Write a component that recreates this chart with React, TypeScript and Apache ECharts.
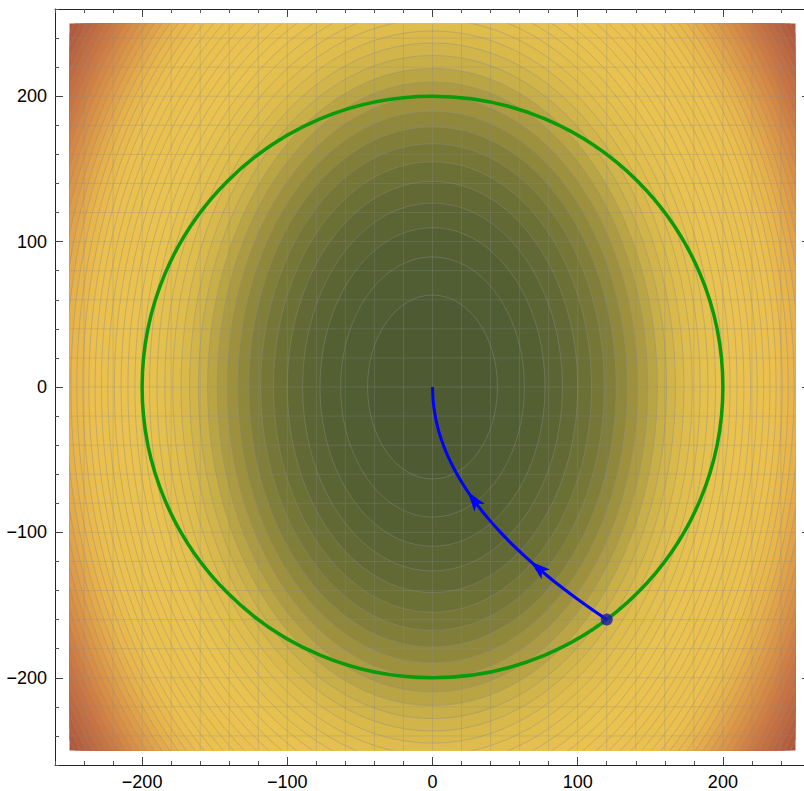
import React, { useEffect, useRef } from 'react';
import * as echarts from 'echarts';

// Contour levels of the field f(x, y) = x^2 + y^2 / 2
const contourLevels = [
  2000, 4000, 6000, 8000, 10000, 12000, 14000, 16000, 18000, 20000,
  22000, 24000, 26000, 28000, 30000, 32000, 34000, 36000, 38000, 40000,
  42000, 44000, 46000, 48000, 50000, 52000, 54000, 56000, 58000, 60000,
  62000, 64000, 66000, 68000, 70000, 72000, 74000, 76000, 78000, 80000,
  82000, 84000, 86000, 88000, 90000, 92000, 94000,
];
const fieldExtent = [-250, 250];
const gridValues = [
  -240, -220, -200, -180, -160, -140, -120, -100, -80, -60, -40, -20, 0,
  20, 40, 60, 80, 100, 120, 140, 160, 180, 200, 220, 240,
];
const majorTicks = [-200, -100, 0, 100, 200];
const minorTicks = [
  -260, -240, -220, -180, -160, -140, -120, -80, -60, -40, -20,
  20, 40, 60, 80, 120, 140, 160, 180, 220, 240, 260,
];
const axisRange = [-260, 260];
const circleRadius = [200];
const pathPoints = [
  [120, -160], [105.5, -150], [91.9, -140], [79.2, -130], [67.5, -120],
  [56.7, -110], [46.9, -100], [38.0, -90], [30.0, -80], [23.0, -70],
  [16.9, -60], [11.7, -50], [7.5, -40], [4.2, -30], [1.9, -20],
  [0.5, -10], [0, 0],
];
// arrowheads: tip point, point behind on the path
const arrowData = [
  [24.3, -72, 33.9, -85],
  [67.5, -120, 81.7, -132],
];
const startPoint = [[120, -160]];

const colorStops: [number, number[]][] = [
  [0, [76, 90, 50]],
  [5000, [84, 95, 50]],
  [10000, [102, 108, 52]],
  [15000, [128, 126, 56]],
  [20000, [165, 150, 64]],
  [25000, [200, 175, 72]],
  [30000, [222, 188, 76]],
  [40000, [234, 195, 79]],
  [55000, [236, 192, 78]],
  [62000, [232, 180, 75]],
  [70000, [222, 152, 70]],
  [80000, [204, 118, 64]],
  [94000, [172, 82, 57]],
];

function colorAt(f: number): string {
  for (let i = 1; i < colorStops.length; i++) {
    const [f1, c1] = colorStops[i];
    const [f0, c0] = colorStops[i - 1];
    if (f <= f1 || i === colorStops.length - 1) {
      const t = Math.max(0, Math.min(1, (f - f0) / (f1 - f0)));
      const c = c0.map((v, k) => Math.round(v + (c1[k] - v) * t));
      return `rgb(${c[0]},${c[1]},${c[2]})`;
    }
  }
  return 'rgb(0,0,0)';
}

const fmt = (v: number) => (v < 0 ? '\u2212' + Math.abs(v) : String(v));
const FONT = "'Liberation Sans', Arial, Helvetica, sans-serif";

function majorAxis(position: string, labels: boolean) {
  return {
    type: 'value',
    position,
    min: axisRange[0],
    max: axisRange[1],
    axisLine: { show: true, onZero: false, lineStyle: { color: '#222', width: 1 } },
    axisTick: {
      show: true,
      inside: true,
      length: 8,
      customValues: majorTicks,
      lineStyle: { color: '#444', width: 1 },
    },
    axisLabel: {
      show: labels,
      customValues: majorTicks,
      formatter: fmt,
      fontSize: 18,
      fontFamily: FONT,
      color: '#000',
      margin: 8,
    },
    splitLine: { show: false },
  };
}

function minorAxis(position: string) {
  return {
    type: 'value',
    position,
    min: axisRange[0],
    max: axisRange[1],
    interval: 20,
    axisLine: { show: false, onZero: false },
    axisTick: {
      show: true,
      inside: true,
      length: 4,
      customValues: minorTicks,
      lineStyle: { color: '#555', width: 1 },
    },
    axisLabel: { show: false },
    splitLine: { show: false },
  };
}

export default function App() {
  const ref = useRef<HTMLDivElement>(null);

  useEffect(() => {
    if (!ref.current) return;
    const chart = echarts.init(ref.current, null, { renderer: 'svg' });

    const contourData = [];
    for (let i = contourLevels.length - 1; i >= 0; i--) {
      contourData.push([contourLevels[i], i > 0 ? contourLevels[i - 1] : 0]);
    }

    const clipRect = (api: any) => {
      const tl = api.coord([fieldExtent[0], fieldExtent[1]]);
      const br = api.coord([fieldExtent[1], fieldExtent[0]]);
      return { type: 'rect', shape: { x: tl[0], y: tl[1], width: br[0] - tl[0], height: br[1] - tl[1] } };
    };

    const option: any = {
      animation: false,
      grid: { left: 55, top: 9, width: 755, height: 756, containLabel: false, outerBoundsMode: 'none' },
      xAxis: [
        majorAxis('bottom', true),
        minorAxis('bottom'),
        majorAxis('top', false),
        minorAxis('top'),
      ],
      yAxis: [
        majorAxis('left', true),
        minorAxis('left'),
        majorAxis('right', false),
        minorAxis('right'),
      ],
      series: [
        {
          type: 'custom',
          z: 1,
          silent: true,
          data: contourData,
          renderItem: (params: any, api: any) => {
            const c = api.value(0);
            const prev = api.value(1);
            const center = api.coord([0, 0]);
            const rx = api.size([Math.sqrt(c), 0])[0];
            const ry = api.size([0, Math.sqrt(2 * c)])[1];
            return {
              type: 'ellipse',
              shape: { cx: center[0], cy: center[1], rx, ry },
              style: {
                fill: colorAt((c + prev) / 2),
                stroke: 'rgba(140,140,140,0.42)',
                lineWidth: 1,
              },
              clipPath: clipRect(api),
            };
          },
        },
        {
          type: 'custom',
          z: 2,
          silent: true,
          data: gridValues.map((v) => [v, v]),
          renderItem: (params: any, api: any) => {
            const v = api.value(0);
            const a = api.coord([v, fieldExtent[0]]);
            const b = api.coord([v, fieldExtent[1]]);
            const c = api.coord([fieldExtent[0], v]);
            const d = api.coord([fieldExtent[1], v]);
            const st = { stroke: 'rgba(140,140,140,0.3)', lineWidth: 1 };
            return {
              type: 'group',
              children: [
                { type: 'line', shape: { x1: a[0], y1: a[1], x2: b[0], y2: b[1] }, style: st },
                { type: 'line', shape: { x1: c[0], y1: c[1], x2: d[0], y2: d[1] }, style: st },
              ],
            };
          },
        },
        {
          type: 'custom',
          z: 3,
          silent: true,
          data: circleRadius.map((r) => [r, 0]),
          renderItem: (params: any, api: any) => {
            const r = api.value(0);
            const center = api.coord([0, 0]);
            const rx = api.size([r, 0])[0];
            const ry = api.size([0, r])[1];
            return {
              type: 'ellipse',
              shape: { cx: center[0], cy: center[1], rx, ry },
              style: { fill: 'none', stroke: '#0a9a0a', lineWidth: 3.5 },
            };
          },
        },
        {
          type: 'line',
          z: 4,
          silent: true,
          data: pathPoints,
          smooth: 0.3,
          symbol: 'none',
          lineStyle: { color: '#0000ff', width: 3 },
        },
        {
          type: 'custom',
          z: 5,
          silent: true,
          data: arrowData,
          renderItem: (params: any, api: any) => {
            const tip = api.coord([api.value(0), api.value(1)]);
            const back = api.coord([api.value(2), api.value(3)]);
            let ux = tip[0] - back[0];
            let uy = tip[1] - back[1];
            const len = Math.hypot(ux, uy) || 1;
            ux /= len;
            uy /= len;
            const nx = -uy;
            const ny = ux;
            const L = 20;
            const W = 6.5;
            const N = 5;
            const bx = tip[0] - L * ux;
            const by = tip[1] - L * uy;
            return {
              type: 'polygon',
              shape: {
                points: [
                  [tip[0], tip[1]],
                  [bx + W * nx, by + W * ny],
                  [tip[0] - (L - N) * ux, tip[1] - (L - N) * uy],
                  [bx - W * nx, by - W * ny],
                ],
              },
              style: { fill: '#0000ff' },
            };
          },
        },
        {
          type: 'scatter',
          z: 6,
          silent: true,
          data: startPoint,
          symbol: 'circle',
          symbolSize: 12,
          itemStyle: { color: '#1a1aa8' },
        },
      ],
    };

    chart.setOption(option);
    return () => chart.dispose();
  }, []);

  return (
    <div
      ref={ref}
      style={{ position: 'absolute', left: 0, top: 0, width: 804, height: 791 }}
    />
  );
}
